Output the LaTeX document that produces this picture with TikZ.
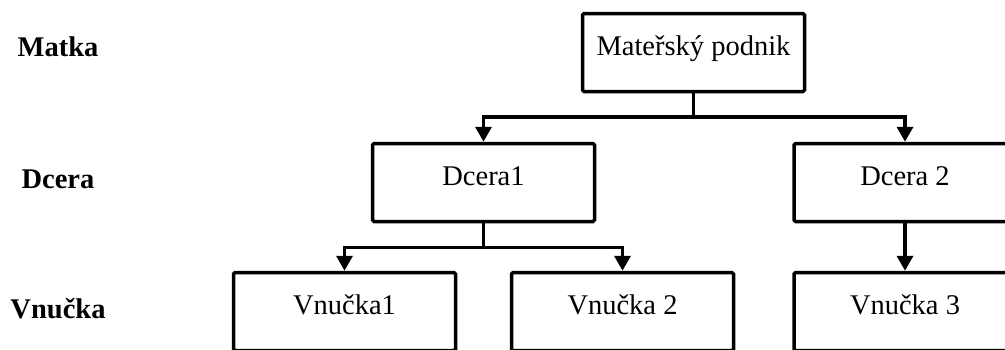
\documentclass[tikz,border=0pt]{standalone}
\usepackage{fontspec}
\setmainfont{Liberation Serif}
\usetikzlibrary{arrows.meta}
\begin{document}
\begin{tikzpicture}[x=1pt,y=-1pt,
  unit/.style={draw, line width=3.5pt, rounded corners=1.5pt, fill=white,
    minimum width=222pt, minimum height=78pt, inner sep=0pt,
    font=\fontsize{28.5}{30}\selectfont, text height=0.662em, text depth=0pt},
  level/.style={font=\fontsize{28.5}{30}\selectfont\bfseries,
    text height=0.662em, text depth=0pt, inner sep=0pt},
  link/.style={line width=3.5pt},
  arr/.style={link, -{Triangle[length=15pt,width=16pt]}}]
\useasboundingbox (0,0) rectangle (1005,349);
\clip (0,0) rectangle (1005,349);
\fill[white] (0,0) rectangle (1005,349);

% level captions
\node[level] (lm) at (58,53) {Matka};
\node[level] (ld) at (58,185) {Dcera};
\node[level] (lv) at (58,315) {Vnučka};

% companies
\node[unit] (m)  at (693.5,52.5)  {Mateřský podnik};
\node[unit] (d1) at (483.5,182.5) {Dcera1};
\node[unit] (d2) at (905,182.5)   {Dcera 2};
\node[unit] (v1) at (344.5,311.5) {Vnučka1};
\node[unit] (v2) at (622.5,311.5) {Vnučka 2};
\node[unit] (v3) at (905,311.5)   {Vnučka 3};

% ownership links
\coordinate (j1) at (m.south |- 0,117);
\coordinate (j2) at (d1.south |- 0,247.5);
\draw[link] (m.south) -- (j1);
\draw[arr] (j1) -| (d1.north);
\draw[arr] (j1) -| (d2.north);
\draw[link] (d1.south) -- (j2);
\draw[arr] (j2) -| (v1.north);
\draw[arr] (j2) -| (v2.north);
\draw[arr] (d2.south) -- (v3.north);
\end{tikzpicture}
\end{document}
